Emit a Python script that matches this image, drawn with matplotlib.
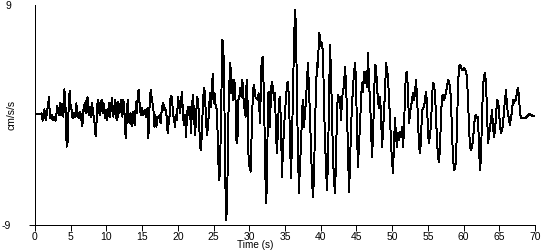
import matplotlib
matplotlib.use("Agg")
import matplotlib.pyplot as plt

# Time (s) and acceleration (cm/s/s)
time_s = [
    0.00, 0.61, 0.93, 1.07, 1.31, 1.49, 1.63, 1.96, 2.10, 2.33, 2.47, 2.71, 2.89, 3.13, 3.31, 3.50,
    3.64, 3.83, 3.97, 4.11, 4.29, 4.43, 4.57, 4.71, 4.85, 4.99, 5.13, 5.27, 5.41, 5.60, 5.79, 5.93,
    6.07, 6.21, 6.35, 6.49, 6.63, 6.77, 6.95, 7.09, 7.23, 7.37, 7.51, 7.70, 7.84, 7.98, 8.17, 8.35,
    8.49, 8.63, 8.77, 8.91, 9.05, 9.19, 9.33, 9.47, 9.61, 9.80, 9.94, 10.08, 10.22, 10.36, 10.50,
    10.64, 10.78, 10.97, 11.11, 11.25, 11.39, 11.53, 11.67, 11.81, 11.95, 12.09, 12.23, 12.37,
    12.55, 12.69, 12.83, 12.97, 13.11, 13.25, 13.39, 13.53, 13.67, 13.81, 13.95, 14.14, 14.28,
    14.37, 14.51,
    14.70, 14.84, 14.98, 15.17, 15.35, 15.54, 15.73, 15.87, 16.01, 16.19, 16.38, 16.57, 16.71,
    16.85, 16.99, 17.13, 17.31, 17.45, 17.59, 17.78, 17.97, 18.11, 18.25, 18.43, 18.57, 18.71,
    18.85, 18.99, 19.18, 19.32, 19.46, 19.60, 19.74, 19.88, 20.02, 20.16, 20.30, 20.44, 20.58,
    20.72, 20.86, 21.00, 21.14, 21.28, 21.42, 21.56, 21.70, 21.84, 21.98, 22.12, 22.26, 22.40,
    22.54, 22.68, 22.82, 22.96, 23.10, 23.24, 23.38, 23.52, 23.66, 23.80, 23.94, 24.08, 24.22,
    24.36, 24.50, 24.64, 24.78, 24.87, 25.01, 25.15, 25.29, 25.48, 25.62, 25.76, 25.90, 26.09,
    26.23, 26.37, 26.51, 26.65, 26.79, 26.93, 27.07, 27.21, 27.35, 27.49, 27.63, 27.77, 27.91,
    28.05, 28.19, 28.33, 28.47, 28.61, 28.75, 28.89, 29.03, 29.17, 29.35, 29.49, 29.63, 29.77,
    29.91, 30.05, 30.19, 30.33, 30.47, 30.61, 30.75, 30.89, 31.03, 31.17, 31.31,
    31.50, 31.69, 31.87, 32.06, 32.20, 32.34, 32.48, 32.62, 32.76, 32.90, 33.04, 33.18, 33.32,
    33.46, 33.60, 33.74, 33.88, 34.02, 34.16, 34.30, 34.44, 34.58, 34.72, 34.86, 35.00, 35.14,
    35.28, 35.42, 35.56, 35.70, 35.84, 35.98, 36.12, 36.26, 36.40, 36.54, 36.68, 36.82, 36.96,
    37.10, 37.24, 37.38, 37.52, 37.66, 37.80, 37.94, 38.08, 38.22, 38.36, 38.50, 38.64, 38.78,
    38.92, 39.06, 39.20, 39.34, 39.48, 39.62, 39.76, 39.90, 40.04, 40.18, 40.32, 40.46, 40.60,
    40.74, 40.88, 41.02, 41.16, 41.30, 41.44, 41.58, 41.72, 41.86, 42.00, 42.14, 42.28, 42.42,
    42.56, 42.70, 42.84, 42.98, 43.12, 43.26, 43.40, 43.54, 43.68, 43.82, 43.96, 44.10, 44.24,
    44.38, 44.52, 44.66, 44.80, 44.94, 45.08, 45.22, 45.36, 45.50, 45.64, 45.78, 45.92, 46.06,
    46.20, 46.34, 46.48, 46.62, 46.76, 46.90, 47.04, 47.18, 47.32, 47.46, 47.60, 47.74, 47.88,
    48.02, 48.16, 48.30, 48.44, 48.58, 48.72, 48.86, 49.00, 49.14, 49.28, 49.42, 49.56, 49.70,
    49.84, 49.98, 50.12, 50.26, 50.40, 50.54, 50.68, 50.82, 50.96, 51.10, 51.24, 51.38, 51.52,
    51.66, 51.80, 51.94, 52.08, 52.22, 52.36, 52.50, 52.64, 52.78, 52.92, 53.06, 53.20, 53.34,
    53.48, 53.62, 53.76, 53.90, 54.04, 54.18, 54.32, 54.46, 54.60, 54.74, 54.88, 55.02, 55.16,
    55.30, 55.44, 55.58, 55.72, 55.86, 56.00, 56.14, 56.28, 56.42, 56.56, 56.70, 56.84, 56.98,
    57.12, 57.26, 57.40, 57.54, 57.68, 57.82, 57.96, 58.10, 58.24, 58.38, 58.52, 58.66, 58.80,
    58.94, 59.08, 59.22, 59.36, 59.50, 59.64, 59.78, 59.92, 60.06, 60.20, 60.34, 60.48, 60.62,
    60.76, 60.90, 61.04, 61.18, 61.32, 61.46, 61.60, 61.74, 61.88, 62.02, 62.16, 62.30, 62.44,
    62.58, 62.72, 62.86, 63.00, 63.14, 63.28, 63.42, 63.56, 63.70, 63.84, 63.98, 64.12, 64.26,
    64.40, 64.54, 64.68, 64.82, 64.96, 65.10, 65.24, 65.38, 65.52, 65.66, 65.80, 65.94, 66.08,
    66.22, 66.36, 66.50, 66.64, 66.78, 66.92, 67.06, 67.20, 67.34, 67.48, 67.62, 67.76, 67.90,
    68.04, 68.32, 68.60, 68.88, 69.16, 69.44, 69.72, 70.00,
]

accel = [
    0.08, 0.05, 0.14, -0.46, 0.46, -0.41, 0.00, 1.45, -0.27, 0.00, -0.41, -0.14, -0.46, 0.74, 0.00, 0.96,
    0.00, 0.90, -0.14, 2.10, 0.41, -2.59, -2.18, 0.68, 1.99, 0.68, 0.41, -0.27, 0.14, -0.19, 0.96, -0.14,
    0.14, -0.27, 0.27, -0.41, -0.90, 0.41, 0.96, 0.14, 1.37, 1.45, 0.00, 0.68, -0.14, 0.96, 0.00, -0.68,
    -1.72, -0.41, 1.23, 0.96, 0.00, 0.68, 1.23, 0.14, 0.96, -0.27, 0.41, -0.41, 0.14, 0.96, -0.14,
    0.68, 1.37, -0.14, 0.74, 1.23, -0.27, -0.41, 1.09, 0.14, 0.41, 1.23, -0.14, 1.23,
    0.00, -1.91, -0.55, 1.23, 0.00, -0.68, 0.14, -0.90, 0.27, 0.00, -0.82, 1.09, 0.14,
    1.50, 2.05,
    0.41, 0.00, 0.55, 0.00, 0.41, -0.14, 0.55, -1.91, 0.41, 2.05, 1.23, 0.55, -0.96,
    0.00, -0.96, -0.14, -0.27, 0.00, -0.68, 0.68, 0.96, 0.41, 0.55, -0.14, -1.50, -0.68,
    0.00, 1.56, 1.50, 0.00, -0.27, -0.96, 0.00, -0.41, 1.50, 0.96, 0.14, 1.09, 1.91,
    -0.14, -0.82, 0.00, -1.78, 0.00, 0.68, 0.00, 0.68, -1.50, 0.68, 1.64, 0.00, -1.64,
    -0.41, 1.50, 1.23, -0.14, -2.59, -2.87, -1.23, 1.23, 2.19, 1.78, -0.41, -1.64, -0.96,
    0.41, 1.78, 0.68, 1.78, 3.36, 0.96, 1.78, 0.68, 0.41, -2.87, -5.33, -4.78, 1.23,
    6.15, 5.60, 1.23, -5.60, -8.61, -5.87, -0.14, 2.60, 4.24, 1.78, 2.87, 1.23, 2.87,
    1.78, -2.05, -2.32, 1.23, 1.50, 2.19, 1.50, 2.87, 1.50, 0.41, -0.14, 2.87, 0.96,
    -3.96, -4.24, -4.64, -1.50, 1.23, 2.46, 2.05, 1.37, 1.37, 1.23, 1.78,
    -0.68, 3.96, 4.78, 1.50, -3.42, -7.24, -5.60, 1.78, 1.91, -0.96, 2.05, 2.73, 2.19,
    1.23, 1.78, -1.50, -3.14, -0.96, 1.23, 1.50, -0.96, -5.05, -2.59, -1.23, 0.41, 1.23,
    2.60, 2.73, 1.23, -2.05, -5.19, -2.05, 1.78, 5.87, 8.61, 7.24, 1.23, -3.14, -6.42,
    -3.69, -2.87, 0.41, 1.23, -0.96, 0.14, 1.23, 2.87, 4.24, 2.05, -0.14, -2.87, -5.33,
    -6.70, -5.05, -0.96, 2.05, 4.24, 3.96, 6.69, 6.42, 5.60, 5.87, 5.05, 0.96, -2.05,
    -4.24, -6.15, -3.69, 1.23, 5.74, 3.42, -0.14, -3.42, -5.33, -6.42, -3.69, 0.41, 1.64,
    1.23, 1.50, -0.41, 1.23, 2.05, 2.32, 3.96, 2.60, 0.14, -2.87, -6.28, -4.24, -0.96,
    0.68, 2.32, 3.42, 4.24, 2.87, -1.50, -4.24, -2.32, -0.96, 1.23, 2.60, 1.91, 3.55,
    2.60, 3.55, 2.32, 5.05, 2.60, 1.23, -0.96, -3.42, -1.78, 1.23, 4.10, 3.96, 2.32,
    1.23, 0.55, 1.50, 0.14, -2.59, -1.50, 0.41, 1.78, 4.24, 3.69, 3.14, 1.23, -0.14,
    -2.32, -3.69, -4.78, -2.32, -0.27, -1.78, -2.59, -1.50, -2.05, -1.37, -1.78, -0.96, -2.59,
    -1.23, 1.78, 3.42, 3.55, 1.78, -0.68, 0.14, 0.68, 1.23, 1.78, 1.23, 1.78, 2.87,
    1.50, -0.41, -2.59, -3.14, -2.05, 0.41, 0.55, 0.68, 1.23, 1.91, 0.96, -1.50, -2.32,
    -1.50, -0.96, 1.50, 2.60, 2.46, 1.78, -0.14, -2.05, -3.42, -3.83, -2.60, -0.14, 1.50,
    1.64, 1.23, 1.50, 1.78, 2.32, 2.87, 2.73, 2.32, 1.23, -1.50, -3.42, -4.51, -4.37,
    -3.69, -0.96, 2.32, 3.96, 4.10, 3.96, 3.69, 3.69, 3.83, 3.69, 3.55, 3.01, 1.23,
    -0.96, -2.59, -2.87, -2.59, -2.05, -0.96, -0.14, 0.00, -0.27, -0.14, -2.59, -4.51, -3.42,
    -0.14, 2.32, 3.14, 3.42, 2.60, 0.41, -2.32, -1.78, -0.96, -0.41, 0.41, -0.96, -1.78,
    -1.23, -0.14, 1.23, 1.09, 0.41, -0.96, -1.50, -1.23, -0.82, 0.41, 1.23, 2.05, 0.68,
    0.14, -0.41, -0.82, -0.14, 0.27, 1.23, 0.96, 1.23, 1.23, 1.91, 2.19, 1.50, 0.14,
    -0.27, -0.27, -0.27, -0.14, 0.08, 0.00, -0.08, -0.08,
]

x_ticks = [0, 5, 10, 15, 20, 25, 30, 35, 40, 45, 50, 55, 60, 65, 70]
y_ticks = [-9, 9]
x_label = "Time (s)"
y_label = "cm/s/s"

plt.rcParams['font.family'] = ['Liberation Sans', 'DejaVu Sans']

fig = plt.figure(figsize=(5.5, 2.5), dpi=100)
ax = fig.add_axes([35 / 550, 1 - 225 / 250, 500 / 550, 220 / 250])

ax.plot(time_s, accel, color='black', linewidth=0.7, antialiased=False)

ax.set_xlim(0, 70)
ax.set_ylim(-9, 9)
ax.set_xticks(x_ticks)
ax.set_xticklabels([str(v) for v in x_ticks])
ax.set_yticks(y_ticks)
ax.set_yticklabels([str(v) for v in y_ticks])

for s in ['top', 'right']:
    ax.spines[s].set_visible(False)
for s in ['left', 'bottom']:
    ax.spines[s].set_linewidth(0.7)
    ax.spines[s].set_antialiased(False)

ax.tick_params(axis='x', direction='out', length=4, width=0.7, labelsize=7.5, pad=1)
ax.tick_params(axis='y', direction='out', length=4, width=0.7, labelsize=7.5, pad=13)
ax.yaxis.get_major_ticks()[1].tick1line.set_visible(False)

ax.set_xlabel(x_label, fontsize=7.2, labelpad=0)
ax.xaxis.set_label_coords(0.44, -0.068)
ax.set_ylabel(y_label, fontsize=7.5)
ax.yaxis.set_label_coords(-0.036, 0.5)

fig.savefig("out.png", dpi=100)
